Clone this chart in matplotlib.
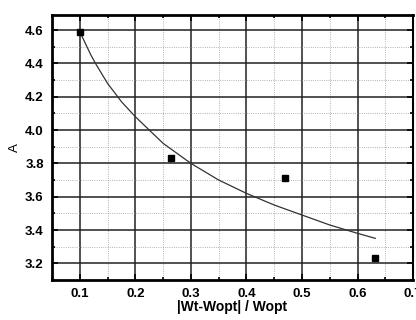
import matplotlib
matplotlib.use("Agg")
from matplotlib import pyplot as plt
from matplotlib.ticker import MultipleLocator

plt.rcParams['font.family'] = ['Liberation Sans', 'DejaVu Sans']

# measured points
dev = [0.10, 0.265, 0.47, 0.632]
amp = [4.59, 3.83, 3.71, 3.23]

# fitted curve
fit_x = [0.10, 0.11, 0.12, 0.13, 0.15, 0.175, 0.20, 0.225, 0.25, 0.275, 0.30,
         0.35, 0.40, 0.45, 0.50, 0.55, 0.60, 0.632]
fit_y = [4.59, 4.52, 4.45, 4.39, 4.28, 4.17, 4.08, 4.00, 3.92, 3.86, 3.80,
         3.70, 3.62, 3.55, 3.49, 3.43, 3.38, 3.35]

fig = plt.figure(figsize=(4.16, 3.2), dpi=100)
ax = fig.add_axes([0.125, 0.125, 0.868, 0.828])

ax.plot(fit_x, fit_y, color='#333333', lw=0.9, zorder=3)
ax.plot(dev, amp, 's', color='black', ms=5, zorder=4)

ax.set_xlim(0.05, 0.7)
ax.set_ylim(3.1, 4.69)
ax.xaxis.set_major_locator(MultipleLocator(0.1))
ax.xaxis.set_minor_locator(MultipleLocator(0.05))
ax.yaxis.set_major_locator(MultipleLocator(0.2))
ax.yaxis.set_minor_locator(MultipleLocator(0.1))

ax.grid(which='major', color='#222222', lw=1.1, ls='-')
ax.grid(which='minor', color='#999999', lw=0.6, ls=':')
ax.set_axisbelow(True)

ax.tick_params(which='both', direction='in', top=True, right=True, width=1.2)
ax.tick_params(which='major', length=4, labelsize=9.5, pad=6)
ax.tick_params(which='minor', length=2.5)
for lab in ax.get_xticklabels() + ax.get_yticklabels():
    lab.set_fontweight('bold')

for s in ['left', 'bottom', 'top']:
    ax.spines[s].set_linewidth(2.0)
ax.spines['right'].set_linewidth(1.5)

ax.set_xlabel('|Wt-Wopt| / Wopt', fontsize=10, fontweight='bold', labelpad=0)
ax.set_ylabel('A', fontsize=9.5, labelpad=3)

fig.savefig('out.png', dpi=100)
